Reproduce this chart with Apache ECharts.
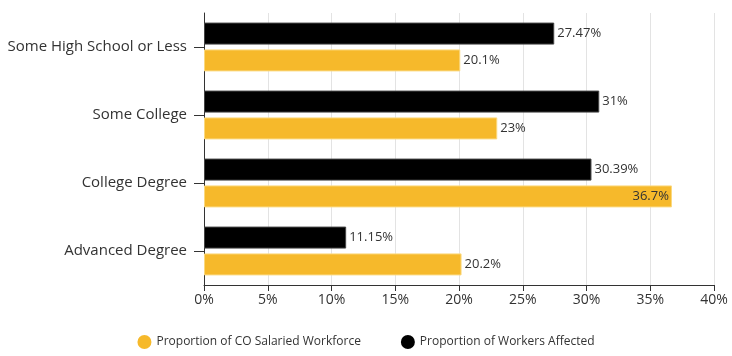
<!DOCTYPE html>
<html lang="en">
<head>
  <meta charset="UTF-8" />
  <title>Education levels</title>
  <script src="https://cdn.jsdelivr.net/npm/echarts@6/dist/echarts.min.js"></script>
  <style>
    html, body { margin: 0; padding: 0; background: #fff; }
    #main { width: 732px; height: 356px; }
  </style>
</head>
<body>
  <div id="main"></div>
  <script>
    // categories, top to bottom
    var categories = ['Some High School or Less', 'Some College', 'College Degree', 'Advanced Degree'];
    var workersAffected = [27.47, 31, 30.39, 11.15];
    var salariedWorkforce = [20.1, 23, 36.7, 20.2];
    var seriesNames = ['Proportion of CO Salaried Workforce', 'Proportion of Workers Affected'];

    var font = 'Open Sans';
    var chart = echarts.init(document.getElementById('main'));

    // the widest yellow bar has its label inside
    var yellowData = salariedWorkforce.map(function (v) {
      if (v > 35) {
        return { value: v, label: { position: 'insideRight' } };
      }
      return v;
    });

    var option = {
      animation: false,
      textStyle: { fontFamily: font },
      grid: { left: 204, right: 18, top: 13, bottom: 71 },
      legend: {
        data: seriesNames,
        bottom: 2,
        left: 'center',
        icon: 'circle',
        itemWidth: 14,
        itemHeight: 14,
        itemGap: 40,
        itemStyle: { borderWidth: 0 },
        textStyle: { fontFamily: font, fontSize: 12, color: '#333' }
      },
      xAxis: {
        type: 'value',
        min: 0,
        max: 40,
        interval: 5,
        axisLine: { show: true, lineStyle: { color: '#333' } },
        axisTick: { show: true, length: 6, lineStyle: { color: '#333' } },
        axisLabel: { formatter: '{value}%', color: '#333', fontSize: 14, fontFamily: font, margin: 8 },
        splitLine: { show: true, lineStyle: { color: '#e3e3e3' } }
      },
      yAxis: {
        type: 'category',
        data: categories,
        inverse: true,
        axisLine: { show: true, lineStyle: { color: '#333' } },
        axisTick: { show: true, alignWithLabel: true, length: 10, lineStyle: { color: '#333' } },
        axisLabel: { color: '#333', fontSize: 15, fontFamily: font, margin: 17 }
      },
      series: [
        {
          name: seriesNames[1],
          type: 'bar',
          data: workersAffected,
          barWidth: 22,
          barGap: '22%',
          itemStyle: { color: '#000', borderColor: '#444', borderWidth: 1 },
          label: {
            show: true,
            position: 'right',
            distance: 3,
            formatter: '{c}%',
            color: '#333',
            fontSize: 13,
            fontFamily: font
          }
        },
        {
          name: seriesNames[0],
          type: 'bar',
          data: yellowData,
          barWidth: 22,
          barGap: '22%',
          itemStyle: { color: '#f6b92b', borderColor: '#fbd97f', borderWidth: 1 },
          label: {
            show: true,
            position: 'right',
            distance: 3,
            formatter: '{c}%',
            color: '#333',
            fontSize: 13,
            fontFamily: font
          }
        }
      ]
    };

    chart.setOption(option);
  </script>
</body>
</html>
